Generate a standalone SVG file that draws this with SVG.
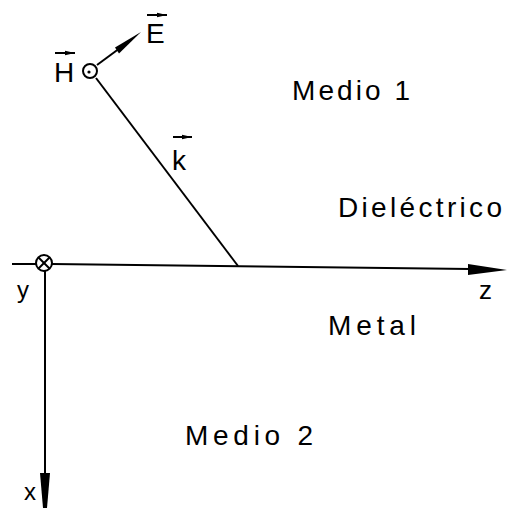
<svg xmlns="http://www.w3.org/2000/svg" width="507" height="508" viewBox="0 0 507 508">
<style>
.ln{stroke:#000;stroke-width:2;fill:none}
.hd{fill:#000;stroke:none}
text{font-family:"Liberation Sans","DejaVu Sans",sans-serif;fill:#000}
.lb{font-size:28px}
</style>
<defs>
<marker id="va" viewBox="0 0 10 6" refX="10" refY="3" markerWidth="10" markerHeight="6" markerUnits="userSpaceOnUse" orient="auto">
<path d="M0,0.8 L10,3 L0,5.2 Z" fill="#000"/>
</marker>
</defs>
<rect width="507" height="508" fill="#fff"/>
<g id="connectors">
<line class="ln" x1="12" y1="264" x2="36" y2="264"/>
<line class="ln" x1="52" y1="264" x2="470" y2="269"/>
<polygon class="hd" points="468,264 507,270 468,275"/>
<line class="ln" x1="45" y1="271" x2="45" y2="475"/>
<polygon class="hd" points="40,473 50,473 47,508 43,508"/>
<line class="ln" x1="96" y1="78" x2="238" y2="266"/>
<line class="ln" x1="97" y1="65" x2="120" y2="48"/>
<polygon class="hd" points="119,53.5 115,47.5 141,32"/>
</g>
<g id="node-y-axis">
<circle class="ln" cx="44" cy="263" r="8"/>
<line class="ln" x1="38.5" y1="257.5" x2="49.5" y2="268.5" stroke-width="2.5"/>
<line class="ln" x1="49.5" y1="257.5" x2="38.5" y2="268.5" stroke-width="2.5"/>
<text x="17" y="298" style="font-size:24px">y</text>
</g>
<g id="node-H">
<circle class="ln" cx="90" cy="71" r="7"/>
<circle class="hd" cx="89" cy="72" r="1.6"/>
<text x="54" y="82" class="lb">H</text>
<line class="ln" x1="55" y1="53" x2="75" y2="53" stroke-width="1.5" marker-end="url(#va)"/>
</g>
<g id="node-E">
<text x="146" y="43" class="lb">E</text>
<line class="ln" x1="147" y1="15" x2="167" y2="15" stroke-width="1.5" marker-end="url(#va)"/>
</g>
<g id="node-k">
<text x="172" y="170" class="lb">k</text>
<line class="ln" x1="173" y1="137" x2="192" y2="137" stroke-width="1.5" marker-end="url(#va)"/>
</g>
<g id="node-z"><text x="479" y="299" style="font-size:26px">z</text></g>
<g id="node-x"><text x="24" y="500" style="font-size:24px">x</text></g>
<g id="node-medio1"><text x="292" y="100" class="lb" textLength="118" lengthAdjust="spacing">Medio 1</text></g>
<g id="node-dielectrico"><text x="338" y="217" class="lb" textLength="164" lengthAdjust="spacing">Dieléctrico</text></g>
<g id="node-metal"><text x="328" y="335" class="lb" textLength="88" lengthAdjust="spacing">Metal</text></g>
<g id="node-medio2"><text x="185" y="445" class="lb" textLength="128" lengthAdjust="spacing">Medio 2</text></g>
</svg>
